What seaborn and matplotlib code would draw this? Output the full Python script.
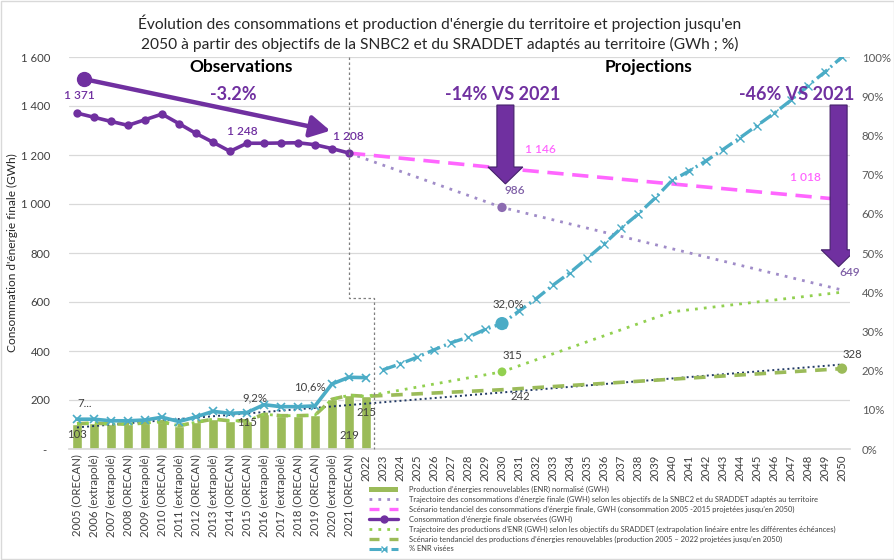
import matplotlib
matplotlib.use("Agg")
import matplotlib.pyplot as plt
import seaborn as sns
import numpy as np
import pandas as pd
from matplotlib.patches import FancyArrow, Rectangle, Patch
from matplotlib.lines import Line2D
from matplotlib.ticker import FuncFormatter, MultipleLocator, FixedLocator

# ---------------- data ----------------
first_year = 2005
all_years = list(range(2005, 2051))
obs_tags = ["ORECAN", "extrapolé", "extrapolé", "ORECAN", "extrapolé", "ORECAN",
            "extrapolé", "ORECAN", "extrapolé", "ORECAN", "ORECAN", "extrapolé",
            "extrapolé", "ORECAN", "ORECAN", "extrapolé", "ORECAN"]
x_labels = [f"{y} ({t})" for y, t in zip(range(2005, 2022), obs_tags)] + \
           [str(y) for y in range(2022, 2051)]

conso_years = list(range(2005, 2022))
conso_obs = [1371, 1354, 1337, 1321, 1344, 1367, 1328, 1288, 1252, 1215,
             1248, 1248, 1249, 1250, 1242, 1226, 1208]

snbc_years = [2021, 2030, 2050]
snbc_vals = [1208, 986, 649]

tend_conso_years = [2021, 2030, 2050]
tend_conso_vals = [1208, 1146, 1018]

prod_years = list(range(2005, 2023))
prod_vals = [103, 106, 102, 102, 106, 111, 95, 109, 122, 115,
             115, 142, 136, 136, 138, 203, 219, 215]

sraddet_years = prod_years + [2030, 2040, 2050]
sraddet_vals = prod_vals + [315, 560, 640]

tend_prod_years = prod_years + [2030, 2050]
tend_prod_vals = prod_vals + [242, 328]

trend_years = [2005, 2050]
trend_vals = [88, 345]

pct_obs_years = list(range(2005, 2023))
pct_obs = [7.6, 7.6, 7.2, 7.2, 7.4, 8.1, 7.0, 8.2, 9.6, 9.1,
           9.3, 11.3, 10.8, 10.8, 11.0, 16.6, 18.3, 18.2]
pct_proj_years = list(range(2023, 2051))
pct_proj = [20.2, 21.7, 23.4, 25.3, 27.1, 28.5, 30.5, 32.0, 35.2, 38.3,
            41.8, 45.0, 48.6, 52.3, 56.3, 59.9, 64.0, 68.5, 70.9, 73.5,
            76.4, 79.4, 82.5, 85.6, 89.0, 92.7, 96.2, 100.0]

# ---------------- colours ----------------
C_PURPLE = "#7030A0"
C_LAV = "#A08CC8"
C_LAV_TXT = "#7F5FA6"
C_PINK = "#FF66FF"
C_BAR = "#9BBB59"
C_GDOT = "#92D050"
C_NAVY = "#203864"
C_BLUE = "#4BACC6"
C_TXT = "#404040"
C_GRID = "#D9D9D9"


def pos(years):
    return [y - first_year for y in years]


sns.set_theme(style="white")
plt.rcParams["font.family"] = ["Lato", "DejaVu Sans"]

fig = plt.figure(figsize=(8.95, 5.6), dpi=100)
L, R, T, B = 68.5, 850.5, 57, 449
ax = fig.add_axes([L / 895, 1 - B / 560, (R - L) / 895, (B - T) / 560])
ax2 = ax.twinx()

# bars
df_bar = pd.DataFrame({"x": pos(prod_years), "v": prod_vals})
sns.barplot(data=df_bar, x="x", y="v", native_scale=True, width=0.55,
            color=C_BAR, saturation=1, errorbar=None, ax=ax, zorder=2)

# trend (navy dotted)
sns.lineplot(x=pos(trend_years), y=trend_vals, ax=ax, color=C_NAVY, lw=1.4,
             linestyle=(0, (1, 1.6)), zorder=3)
# green dashed tendanciel
sns.lineplot(x=pos(tend_prod_years), y=tend_prod_vals, ax=ax, color=C_BAR, lw=2.6,
             linestyle=(0, (3.2, 2.4)), zorder=4)
sns.scatterplot(x=pos(tend_prod_years[-1:]), y=tend_prod_vals[-1:], ax=ax, color=C_BAR,
                s=55, edgecolor="none", zorder=5)
# green dotted SRADDET
i_s30 = sraddet_years.index(2030)
sns.lineplot(x=pos(sraddet_years), y=sraddet_vals, ax=ax, color=C_GDOT, lw=2.0,
             linestyle=(0, (1, 2.2)), zorder=4)
sns.scatterplot(x=pos([sraddet_years[i_s30]]), y=[sraddet_vals[i_s30]], ax=ax, color=C_GDOT,
                s=40, edgecolor="none", zorder=5)
# lavender SNBC
sns.lineplot(x=pos(snbc_years), y=snbc_vals, ax=ax, color=C_LAV, lw=2.0,
             linestyle=(0, (1, 2.2)), zorder=4)
sns.scatterplot(x=pos(snbc_years[1:2]), y=snbc_vals[1:2], ax=ax, color="#8C6BB1",
                s=45, edgecolor="none", zorder=5)
# pink tendanciel conso
sns.lineplot(x=pos(tend_conso_years), y=tend_conso_vals, ax=ax, color=C_PINK, lw=2.6,
             linestyle=(0, (4.5, 2.4)), zorder=4)
# observed consumption
sns.lineplot(x=pos(conso_years), y=conso_obs, ax=ax, color=C_PURPLE, lw=2.6,
             marker="o", markersize=6, markeredgewidth=0, zorder=6)

# % ENR on right axis
sns.lineplot(x=pos(pct_obs_years), y=pct_obs, ax=ax2, color=C_BLUE, lw=2.6,
             marker="x", markersize=6, markeredgewidth=1.2, markeredgecolor=C_BLUE)
sns.lineplot(x=pos(pct_proj_years), y=pct_proj, ax=ax2, color=C_BLUE, lw=2.4,
             linestyle=(0, (4, 1.3, 0.6, 1.3)), marker="x", markersize=6,
             markeredgewidth=1.0, markeredgecolor=C_BLUE)
i30 = pct_proj_years.index(2030)
sns.scatterplot(x=pos([pct_proj_years[i30]]), y=[pct_proj[i30]], ax=ax2, color=C_BLUE,
                s=90, edgecolor="none", zorder=6)

# ---------------- axes formatting ----------------
ax.set_xlim(-0.5, 45.5)
ax.set_ylim(0, 1600)
ax2.set_ylim(0, 100)
ax.yaxis.set_major_locator(MultipleLocator(200))
ax2.yaxis.set_major_locator(MultipleLocator(10))


def fmt_left(v, p):
    if abs(v) < 1e-9:
        return "- "
    s = f"{int(round(v)):,}".replace(",", " ")
    return s


ax.yaxis.set_major_formatter(FuncFormatter(fmt_left))
ax2.yaxis.set_major_formatter(FuncFormatter(lambda v, p: f"{v:.0f}%"))
ax.grid(axis="y", color=C_GRID, lw=0.9)
ax.grid(axis="x", visible=False)
ax.set_axisbelow(True)
ax.xaxis.set_major_locator(FixedLocator(list(range(len(x_labels)))))
ax.set_xticklabels(x_labels, rotation=90, fontsize=8.2, color=C_TXT)
ax.tick_params(axis="x", length=0, pad=4)
ax.tick_params(axis="y", length=0, pad=13, labelsize=8.2, labelcolor=C_TXT)
ax2.tick_params(axis="y", length=0, pad=8, labelsize=8.2, labelcolor="#595959")
for a in (ax, ax2):
    a.set_xlabel("")
    a.set_ylabel("")
    for s in ("top", "left", "right"):
        a.spines[s].set_visible(False)
    a.spines["bottom"].set_color(C_GRID)
ax2.spines["bottom"].set_visible(False)

fig.text(12 / 895, 1 - 253 / 560, "Consommation d'énergie finale (GWh)", rotation=90,
         ha="center", va="center", fontsize=8.6, color="#262626")

# separator dotted
sep_x = pos([2021])[0]
ax.plot([sep_x, sep_x, sep_x + 1.45, sep_x + 1.45], [1600, 617, 617, 0],
        color="#7F7F7F", lw=0.9, linestyle=(0, (2, 2)), zorder=7, clip_on=False)

# ---------------- titles ----------------
fig.text(440 / 895, 1 - 33.5 / 560,
         "Évolution des consommations et production d'énergie du territoire et projection jusqu'en\n"
         "2050 à partir des objectifs de la SNBC2 et du SRADDET adaptés au territoire (GWh ; %)",
         ha="center", va="center", fontsize=11.2, color="#262626", linespacing=1.4)
fig.text(241 / 895, 1 - 67 / 560, "Observations", ha="center", va="center",
         fontsize=12.5, fontweight="bold", color="black")
fig.text(649 / 895, 1 - 67 / 560, "Projections", ha="center", va="center",
         fontsize=12.5, fontweight="bold", color="black")
fig.text(233 / 895, 1 - 94 / 560, "-3.2%", ha="center", va="center",
         fontsize=13, fontweight="bold", color=C_PURPLE)
fig.text(503 / 895, 1 - 94 / 560, "-14% VS 2021", ha="center", va="center",
         fontsize=13, fontweight="bold", color=C_PURPLE, zorder=10)
fig.text(797 / 895, 1 - 94 / 560, "-46% VS 2021", ha="center", va="center",
         fontsize=13, fontweight="bold", color=C_PURPLE, zorder=10)

# trend arrow (observations)
ax.annotate("", xy=(14.9, 1299), xytext=(0.41, 1510),
            arrowprops=dict(arrowstyle="-|>,head_length=0.6,head_width=0.33",
                            lw=3.2, color=C_PURPLE, mutation_scale=20,
                            shrinkA=0, shrinkB=0), zorder=8)
ax.plot([0.41], [1510], marker="o", ms=10, color=C_PURPLE, zorder=8, clip_on=False)

# block arrows
for xc, ytop, ytip in [(25.2, 1404, 1082), (44.8, 1404, 744)]:
    ax.add_patch(FancyArrow(xc, ytop, 0, ytip - ytop, width=1.0, head_width=2.05,
                            head_length=69, length_includes_head=True,
                            facecolor=C_PURPLE, edgecolor="#44206A", lw=0.8,
                            zorder=9))

# ---------------- data labels ----------------
def lab(a, x, y, text, dx, dy, color=C_TXT, size=8.2, weight="normal"):
    a.annotate(text, xy=(x, y), xytext=(dx, dy), textcoords="offset pixels",
               ha="center", va="center", fontsize=size, color=color,
               fontweight=weight, zorder=12)


lab(ax, 0, conso_obs[0], "1 371", 2, 18, C_PURPLE, 8.6, "semibold")
lab(ax, 10, conso_obs[10], "1 248", -5, 12, C_PURPLE, 8.6, "semibold")
lab(ax, 16, conso_obs[16], "1 208", -1, 17, C_PURPLE, 8.6, "semibold")
lab(ax, pos([2030])[0], snbc_vals[1], "986", 13, 17, C_LAV_TXT, 8.6, "semibold")
lab(ax, pos([2050])[0], snbc_vals[2], "649", 8, 17, C_LAV_TXT, 8.6, "semibold")
lab(ax, pos([2030])[0], tend_conso_vals[1], "1 146", 38, 19, C_PINK, 8.6, "semibold")
lab(ax, pos([2050])[0], tend_conso_vals[2], "1 018", -37, 22, C_PINK, 8.6, "semibold")
lab(ax, 0, prod_vals[0], "103", 0, -11)
lab(ax, 10, prod_vals[10], "115", 0, -2)
lab(ax, 16, prod_vals[16], "219", 0, -40)
lab(ax, 17, prod_vals[17], "215", 0, -16)
lab(ax2, 0, pct_obs[0], "7...", 8, 16)
lab(ax2, 10, pct_obs[10], "9,2%", 8, 15)
lab(ax2, 14, pct_obs[14], "10,6%", -5, 19)
lab(ax2, pos([2030])[0], pct_proj[i30], "32,0%", 6, 20)
lab(ax, pos([2030])[0], sraddet_vals[i_s30], "315", 10, 16)
lab(ax, pos([2030])[0], tend_prod_vals[-2], "242", 18, -7)
lab(ax, pos([2050])[0], tend_prod_vals[-1], "328", 10, 14)

# ---------------- legend ----------------
handles = [
    Patch(facecolor=C_BAR, edgecolor="none"),
    Line2D([], [], color=C_LAV, lw=2.0, linestyle=(0, (1, 2.2))),
    Line2D([], [], color=C_PINK, lw=2.4, linestyle=(0, (3, 3))),
    Line2D([], [], color=C_PURPLE, lw=2.4, marker="o", ms=5),
    Line2D([], [], color=C_GDOT, lw=2.0, linestyle=(0, (1, 2.2))),
    Line2D([], [], color=C_BAR, lw=2.4, linestyle=(0, (3, 3))),
    Line2D([], [], color=C_BLUE, lw=2.2, linestyle=(0, (4, 1.3, 0.6, 1.3)),
           marker="x", ms=5, markeredgewidth=1),
]
labels = [
    "Production d’énergies renouvelables (ENR) normalisé (GWH)",
    "Trajectoire des consommations d’énergie finale (GWH) selon les objectifs de la SNBC2 et du SRADDET adaptés au territoire",
    "Scénario tendanciel des consommations d’énergie finale, GWH (consommation 2005 -2015 projetées jusqu’en 2050)",
    "Consommation d’énergie finale observées (GWH)",
    "Trajectoire des productions d’ENR (GWH) selon les objectifs du SRADDET (extrapolation linéaire entre les différentes échéances)",
    "Scénario tendanciel des productions d’énergies renouvelables (production 2005 – 2022 projetées jusqu’en 2050)",
    "% ENR visées",
]
fig.legend(handles, labels, loc="upper left", bbox_to_anchor=(369 / 895, 1 - 486 / 560),
           fontsize=5.4, frameon=False, handlelength=3.9, handletextpad=1.4,
           labelspacing=0.36, borderaxespad=0, borderpad=0, labelcolor=C_TXT)

fig.add_artist(Rectangle((0.0015, 0.002), 0.997, 0.996, transform=fig.transFigure,
                         fill=False, edgecolor=C_GRID, lw=1))

fig.savefig("out.png", dpi=100)
